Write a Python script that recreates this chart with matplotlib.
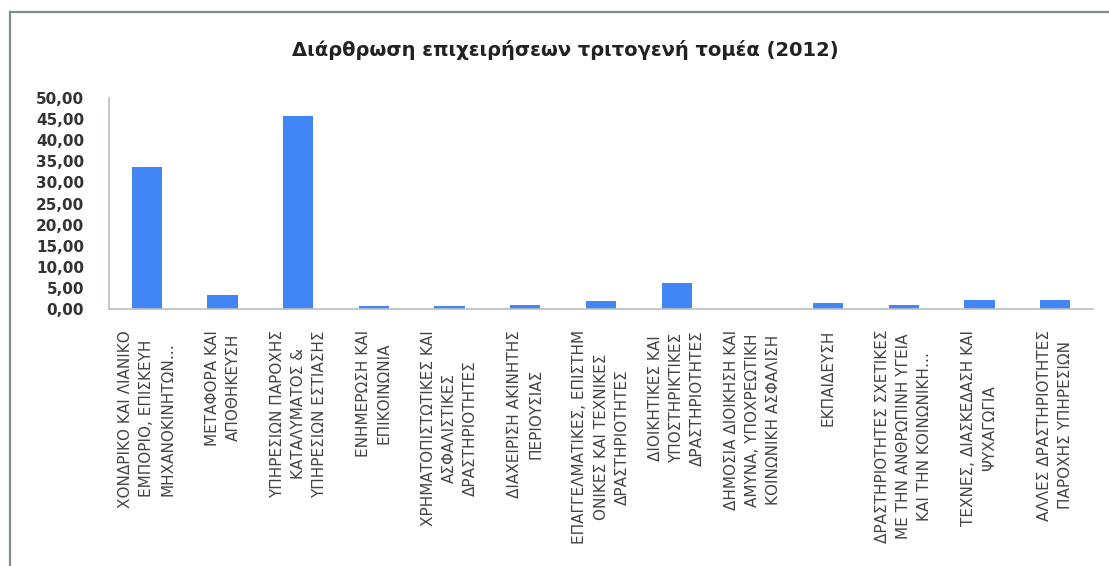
import matplotlib
matplotlib.use("Agg")
import matplotlib.pyplot as plt
from matplotlib.lines import Line2D

categories = [
    "ΧΟΝΔΡΙΚΟ ΚΑΙ ΛΙΑΝΙΚΟ\nΕΜΠΟΡΙΟ, ΕΠΙΣΚΕΥΗ\nΜΗΧΑΝΟΚΙΝΗΤΩΝ…",
    "ΜΕΤΑΦΟΡΑ ΚΑΙ\nΑΠΟΘΗΚΕΥΣΗ",
    "ΥΠΗΡΕΣΙΩΝ ΠΑΡΟΧΗΣ\nΚΑΤΑΛΥΜΑΤΟΣ &\nΥΠΗΡΕΣΙΩΝ ΕΣΤΙΑΣΗΣ",
    "ΕΝΗΜΕΡΩΣΗ ΚΑΙ\nΕΠΙΚΟΙΝΩΝΙΑ",
    "ΧΡΗΜΑΤΟΠΙΣΤΩΤΙΚΕΣ ΚΑΙ\nΑΣΦΑΛΙΣΤΙΚΕΣ\nΔΡΑΣΤΗΡΙΟΤΗΤΕΣ",
    "ΔΙΑΧΕΙΡΙΣΗ ΑΚΙΝΗΤΗΣ\nΠΕΡΙΟΥΣΙΑΣ",
    "ΕΠΑΓΓΕΛΜΑΤΙΚΕΣ, ΕΠΙΣΤΗΜ\nΟΝΙΚΕΣ ΚΑΙ ΤΕΧΝΙΚΕΣ\nΔΡΑΣΤΗΡΙΟΤΗΤΕΣ",
    "ΔΙΟΙΚΗΤΙΚΕΣ ΚΑΙ\nΥΠΟΣΤΗΡΙΚΤΙΚΕΣ\nΔΡΑΣΤΗΡΙΟΤΗΤΕΣ",
    "ΔΗΜΟΣΙΑ ΔΙΟΙΚΗΣΗ ΚΑΙ\nΑΜΥΝΑ, ΥΠΟΧΡΕΩΤΙΚΗ\nΚΟΙΝΩΝΙΚΗ ΑΣΦΑΛΙΣΗ",
    "ΕΚΠΑΙΔΕΥΣΗ",
    "ΔΡΑΣΤΗΡΙΟΤΗΤΕΣ ΣΧΕΤΙΚΕΣ\nΜΕ ΤΗΝ ΑΝΘΡΩΠΙΝΗ ΥΓΕΙΑ\nΚΑΙ ΤΗΝ ΚΟΙΝΩΝΙΚΗ…",
    "ΤΕΧΝΕΣ, ΔΙΑΣΚΕΔΑΣΗ ΚΑΙ\nΨΥΧΑΓΩΓΙΑ",
    "ΑΛΛΕΣ ΔΡΑΣΤΗΡΙΟΤΗΤΕΣ\nΠΑΡΟΧΗΣ ΥΠΗΡΕΣΙΩΝ",
]
values = [33.6, 3.3, 45.8, 0.8, 0.6, 0.95, 1.9, 6.1, 0.0, 1.4, 0.85, 2.1, 2.1]
yticks = [0, 5, 10, 15, 20, 25, 30, 35, 40, 45, 50]

fig = plt.figure(figsize=(11.09, 5.66), dpi=100)
ax = fig.add_axes([109 / 1109, 1 - 309 / 566, 984 / 1109, 211 / 566])

x = range(len(categories))
ax.bar(x, values, width=0.4, color="#4285f4")
ax.set_xlim(-0.5, len(categories) - 0.5)
ax.set_ylim(0, 50)

ax.set_yticks(yticks)
ax.set_yticklabels([f"{v:.2f}".replace(".", ",") for v in yticks],
                   fontsize=11, fontweight="bold", color="#333333")
ax.set_xticks(list(x))
ax.set_xticklabels(categories, rotation=90, fontsize=11, color="#444444",
                   ha="center", va="top", multialignment="center", linespacing=1.5)
ax.tick_params(axis="x", length=0, pad=15)
ax.tick_params(axis="y", length=0, pad=18)

for s in ["top", "right"]:
    ax.spines[s].set_visible(False)
for s in ["left", "bottom"]:
    ax.spines[s].set_color("#b8c0c0")
    ax.spines[s].set_linewidth(1.2)

fig.text(565 / 1109, 1 - 50 / 566, "Διάρθρωση επιχειρήσεων τριτογενή τομέα (2012)",
         ha="center", va="center", fontsize=14, fontweight="bold", color="#222222")

# chart frame (only left and top edges are visible)
fig.add_artist(Line2D([10 / 1109, 10 / 1109], [0, 1 - 12 / 566], transform=fig.transFigure,
                      color="#7f8f8f", lw=1.6))
fig.add_artist(Line2D([10 / 1109, 1], [1 - 12 / 566, 1 - 12 / 566], transform=fig.transFigure,
                      color="#7f8f8f", lw=1.6))

fig.savefig("out.png", dpi=100)
